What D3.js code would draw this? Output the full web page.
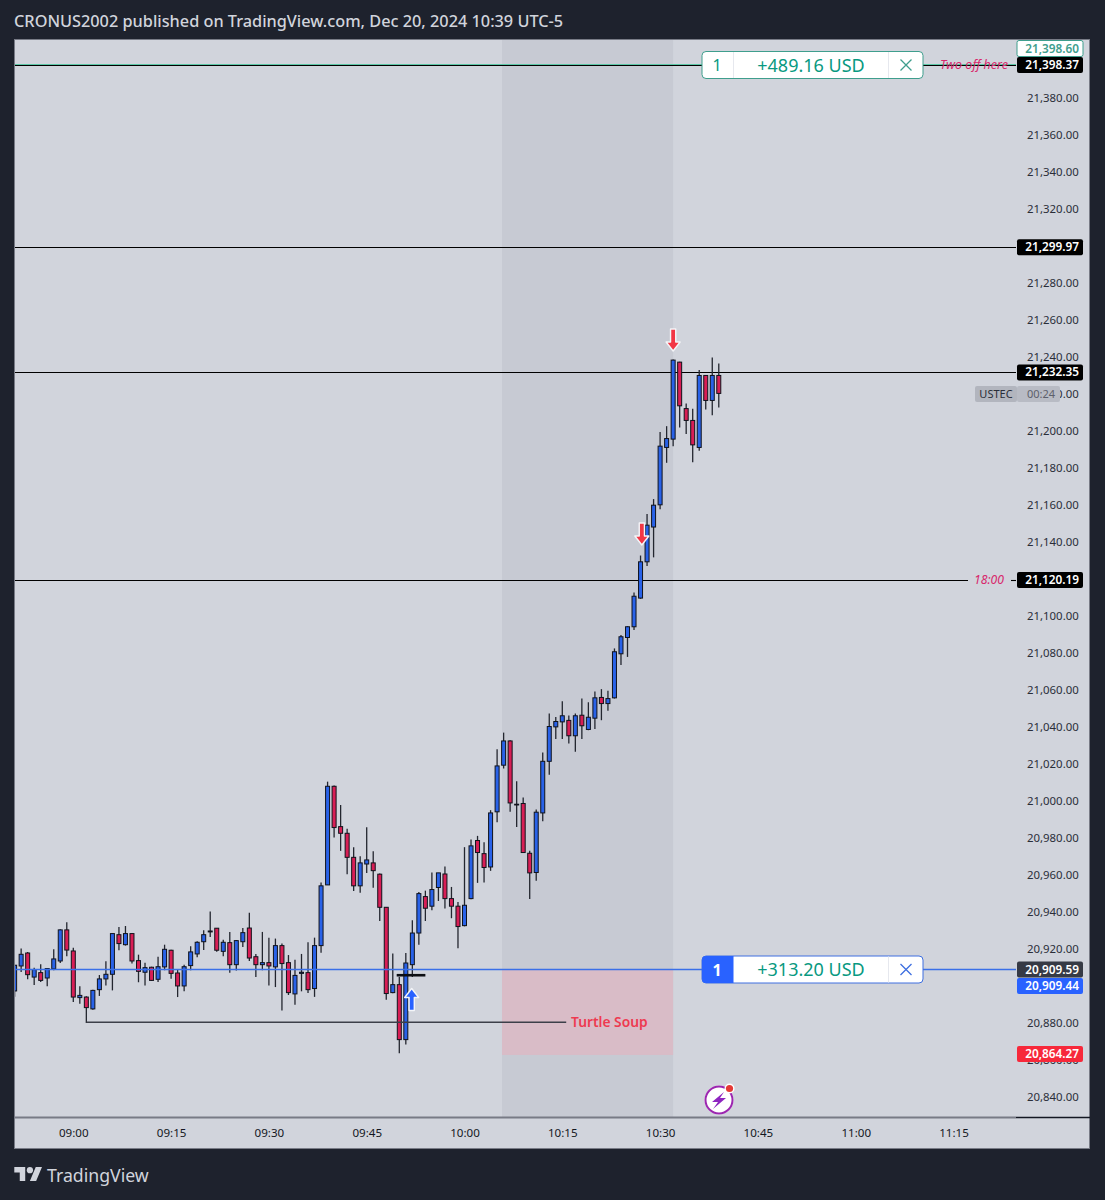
<!DOCTYPE html>
<html>
<head>
<meta charset="utf-8">
<script src="https://cdn.jsdelivr.net/npm/d3@7"></script>
<style>
  html, body { margin: 0; padding: 0; background: #1e222d; }
  svg { display: block; font-family: "Noto Sans", sans-serif; }
</style>
</head>
<body>
<div id="chart"></div>
<script>
// minutes counted from 09:00, one candle per minute
var firstMinute = -9;

var opens = [20898.0,20911.5,20918.5,20905.5,20907.9,20905.0,20909.9,20914.2,20931.0,
  20919.6,20894.4,20894.7,20888.3,20898.7,20904.5,20907.0,20928.4,20923.0,20929.0,
  20914.4,20908.1,20910.8,20904.3,20911.0,20920.0,20907.7,20900.7,20911.7,20918.0,
  20924.6,20929.9,20931.9,20919.4,20924.1,20912.2,20924.6,20932.0,20916.5,20912.2,
  20913.3,20911.0,20922.5,20913.3,20896.4,20907.5,20907.9,20899.3,20922.5,20955.3,
  21008.6,20986.8,20983.2,20970.2,20954.8,20966.6,20967.2,20961.1,20943.2,20897.1,
  20901.4,20871.7,20912.2,20929.3,20949.0,20943.8,20953.9,20961.2,20947.9,20943.8,
  20933.3,20947.9,20979.3,20972.2,20965.0,20994.8,21020.0,21033.1,20998.9,20999.3,
  20972.4,20962.0,20994.2,21022.1,21040.7,21043.4,21044.2,21035.9,21047.0,21039.3,
  21045.4,21056.6,21053.3,21056.4,21080.2,21089.0,21094.8,21110.3,21129.9,21148.7,
  21160.7,21191.7,21196.2,21237.8,21212.7,21206.3,21191.7,21230.6,21217.1,21230.6];

var highs = [20911.9,20920.9,20919.1,20910.6,20912.4,20910.1,20920.5,20931.3,20935.1,
  20921.4,20900.5,20895.1,20898.7,20906.6,20914.0,20929.0,20932.6,20933.1,20929.0,
  20917.6,20913.3,20911.1,20916.5,20923.0,20920.3,20909.5,20912.2,20922.1,20924.8,
  20930.8,20941.0,20932.0,20925.7,20929.9,20925.5,20932.0,20940.3,20918.0,20929.9,
  20926.8,20926.3,20923.6,20917.4,20914.9,20918.0,20924.3,20926.8,20956.6,21011.1,
  21009.0,20998.5,20985.7,20975.7,20970.8,20986.5,20973.5,20961.4,20943.4,20918.2,
  20905.6,20918.5,20936.2,20951.5,20952.2,20962.0,20961.8,20965.2,20954.2,20946.1,
  20975.7,20979.8,20981.8,20978.4,20995.7,21028.6,21037.6,21033.5,21011.3,21002.5,
  20973.7,20996.0,21026.8,21047.9,21046.1,21054.6,21046.9,21047.9,21056.0,21054.0,
  21059.8,21061.1,21060.2,21083.1,21090.3,21095.1,21113.3,21133.3,21155.7,21163.8,
  21200.1,21203.2,21239.2,21238.0,21215.4,21212.6,21233.5,21230.8,21240.3,21237.1];

var lows = [20894.8,20908.3,20904.3,20901.2,20902.8,20900.5,20909.2,20913.1,20916.7,
  20892.0,20891.1,20880.7,20887.9,20895.3,20901.0,20898.3,20920.0,20922.5,20912.8,
  20902.7,20901.0,20903.4,20902.8,20909.2,20904.6,20894.7,20897.8,20909.2,20916.2,
  20920.1,20927.2,20919.2,20916.7,20907.9,20909.0,20921.8,20914.2,20905.5,20909.2,
  20901.0,20900.1,20887.5,20895.8,20890.6,20897.8,20896.9,20894.8,20918.7,20955.3,
  20980.9,20973.7,20961.1,20952.0,20951.0,20961.8,20953.7,20935.8,20893.3,20896.7,
  20864.3,20869.0,20905.6,20922.9,20935.8,20941.6,20946.6,20942.5,20937.3,20921.1,
  20932.9,20947.5,20956.4,20956.6,20962.9,20989.2,21018.2,20994.8,20986.6,20972.6,
  20947.7,20957.6,20989.7,21014.8,21034.2,21034.2,21031.7,21027.2,21034.2,21038.9,
  21039.5,21044.3,21049.4,21056.0,21074.1,21078.5,21093.0,21109.9,21127.6,21132.3,
  21158.3,21183.4,21192.4,21202.5,21198.9,21183.7,21189.9,21212.2,21209.1,21213.3];

var closes = [20911.9,20917.8,20906.8,20909.5,20903.7,20910.1,20915.3,20931.0,20920.1,
  20894.7,20895.6,20889.0,20898.3,20904.5,20907.0,20929.0,20923.6,20929.0,20914.2,
  20908.6,20910.6,20903.7,20911.1,20920.5,20907.5,20900.7,20911.1,20919.1,20924.3,
  20928.4,20930.4,20920.0,20924.3,20912.2,20925.2,20929.5,20915.8,20912.2,20913.3,
  20911.5,20922.5,20912.8,20897.1,20906.4,20908.1,20898.7,20922.5,20954.8,21008.6,
  20986.3,20983.2,20970.2,20954.8,20967.2,20968.8,20963.0,20943.2,20896.6,20901.4,
  20871.7,20913.1,20929.3,20950.6,20942.7,20952.8,20961.8,20947.9,20943.8,20932.8,
  20944.3,20976.4,20972.8,20964.7,20994.2,21019.6,21033.1,20999.6,20998.5,20972.8,
  20961.8,20994.6,21022.1,21040.9,21043.6,21046.7,21035.9,21046.7,21041.3,21045.9,
  21056.4,21053.3,21056.0,21081.3,21089.4,21094.8,21111.3,21129.9,21149.7,21160.5,
  21192.4,21196.5,21238.9,21214.2,21206.3,21193.1,21230.6,21217.1,21230.6,21220.9];

var priceTicks = [21380,21360,21340,21320,21300,21280,21260,21240,21220,21200,21180,21160,
  21140,21120,21100,21080,21060,21040,21020,21000,20980,20960,20940,20920,20900,20880,20860,20840];
var timeTicks = [0,15,30,45,60,75,90,105,120,135];
var timeLabels = ["09:00","09:15","09:30","09:45","10:00","10:15","10:30","10:45","11:00","11:15"];

var levelPrices = [21299.97,21232.35,21120.19];
var tpPrice = 21398.37;
var bidPrice = 21398.60;
var entryPrice = 20909.59;
var askPrice = 20909.44;
var lowPrice = 20864.27;
var boxBottomPrice = 20863.4;

var w = 1105, h = 1200;
var panelL = 15, panelR = 1090, panelT = 40, panelB = 1149, plotRight = 1016, axisY = 1117.5;

var x = d3.scaleLinear().domain([0, 120]).range([73.3, 855.7]);
var y = d3.scaleLinear().domain([21398.37, 20909.59]).range([65, 969.5]);

var fmt = d3.format(",.2f");

var svg = d3.select("#chart").append("svg").attr("width", w).attr("height", h);

svg.append("text").text("CRONUS2002 published on TradingView.com, Dec 20, 2024 10:39 UTC-5")
  .attr("x", 14).attr("y", 27).attr("font-size", 16.3).attr("fill", "#d1d4dc").attr("font-weight", 500);

svg.append("rect").attr("x", panelL - 0.5).attr("y", panelT - 0.5)
  .attr("width", panelR - panelL).attr("height", panelB - panelT)
  .attr("fill", "#d1d4dc").attr("stroke", "#787b86").attr("stroke-width", 1);

var defs = svg.append("defs");
defs.append("clipPath").attr("id", "plot").append("rect")
  .attr("x", panelL).attr("y", panelT).attr("width", plotRight - panelL).attr("height", axisY - panelT);

var plot = svg.append("g").attr("clip-path", "url(#plot)");

// session box and the pink part of it
plot.append("rect").attr("x", x(65.75)).attr("y", panelT)
  .attr("width", x(92) - x(65.75)).attr("height", axisY - panelT).attr("fill", "#c7cad3");
plot.append("rect").attr("x", x(65.75)).attr("y", y(entryPrice))
  .attr("width", x(92) - x(65.75)).attr("height", y(boxBottomPrice) - y(entryPrice)).attr("fill", "#d9bcc7");

// horizontal levels, snapped to a pixel row so they stay black
function snap(v) { return Math.floor(v) + 0.5; }

plot.selectAll("line.level").data(levelPrices).enter().append("line")
  .attr("class", "level")
  .attr("x1", panelL).attr("x2", function (d) { return d == 21120.19 ? 968 : plotRight; })
  .attr("y1", function (d) { return snap(y(d) + 0.4); }).attr("y2", function (d) { return snap(y(d) + 0.4); })
  .attr("stroke", "#000000").attr("stroke-width", 1.1);
plot.append("line").attr("x1", 1011).attr("x2", plotRight)
  .attr("y1", snap(y(21120.19) + 0.4)).attr("y2", snap(y(21120.19) + 0.4))
  .attr("stroke", "#000000").attr("stroke-width", 1.1);

plot.append("line").attr("x1", panelL).attr("x2", plotRight).attr("y1", 64.5).attr("y2", 64.5)
  .attr("stroke", "#5cc6a6").attr("stroke-width", 1);
plot.append("line").attr("x1", panelL).attr("x2", plotRight).attr("y1", 65.5).attr("y2", 65.5)
  .attr("stroke", "#000000").attr("stroke-width", 1);

// candles
var candles = opens.map(function (o, i) {
  return { m: firstMinute + i, o: o, h: highs[i], l: lows[i], c: closes[i] };
});

var candle = plot.selectAll("g.candle").data(candles).enter().append("g").attr("class", "candle");
candle.append("line")
  .attr("x1", function (d) { return x(d.m); })
  .attr("x2", function (d) { return x(d.m); })
  .attr("y1", function (d) { return y(d.h); })
  .attr("y2", function (d) { return y(d.l); })
  .attr("stroke", "#23262f").attr("stroke-width", 1.3);
candle.append("rect")
  .attr("x", function (d) { return x(d.m) - 2; })
  .attr("y", function (d) { return y(Math.max(d.o, d.c)); })
  .attr("width", 4)
  .attr("height", function (d) { return Math.max(0.5, Math.abs(y(d.o) - y(d.c))); })
  .attr("fill", function (d) { return d.c >= d.o ? "#2962e8" : "#d81e55"; })
  .attr("stroke", "#10131c").attr("stroke-width", 1);

// entry line over the candles
plot.append("line").attr("x1", panelL).attr("x2", plotRight).attr("y1", y(entryPrice)).attr("y2", y(entryPrice))
  .attr("stroke", "#3a6fe8").attr("stroke-width", 1.4);

// turtle soup line and the small marker at the entry
plot.append("line").attr("x1", x(2)).attr("x2", x(75.6)).attr("y1", y(20881.1)).attr("y2", y(20881.1))
  .attr("stroke", "#3c3f49").attr("stroke-width", 1.4);
plot.append("line").attr("x1", x(49.6)).attr("x2", x(54)).attr("y1", y(20906.5)).attr("y2", y(20906.5))
  .attr("stroke", "#0b0d12").attr("stroke-width", 2.6);
plot.append("text").text("Turtle Soup").attr("x", 571).attr("y", y(20881.1) + 5)
  .attr("font-size", 13.8).attr("font-weight", 600).attr("fill", "#ee3a50");

// arrows, tip at 0,0
function arrow(px, py, dir, colour) {
  var p = "M0,0 L7,9 L2.6,9 L2.6,22 L-2.6,22 L-2.6,9 L-7,9 Z";
  plot.append("path").attr("d", p)
    .attr("transform", "translate(" + px + "," + py + ") scale(1," + dir + ")")
    .attr("fill", colour).attr("stroke", "#f4f5f8").attr("stroke-width", 1.4).attr("stroke-linejoin", "round");
}
arrow(x(51.9), 988.5, 1, "#2962ff");
arrow(x(87.2), 545, -1, "#f23645");
arrow(x(92), 351, -1, "#f23645");

// annotations
plot.append("text").text("Two off here").attr("x", 940).attr("y", y(tpPrice) + 4)
  .attr("font-size", 12.5).attr("font-style", "italic").attr("fill", "#d8286c");
plot.append("text").text("18:00").attr("x", 974).attr("y", y(21120.19) + 4.5)
  .attr("font-size", 12.2).attr("font-style", "italic").attr("fill", "#d8286c");

// order boxes
function orderBox(price, colour) {
  var cy = y(price);
  var g = svg.append("g");
  g.append("rect").attr("x", 702).attr("y", cy - 13.5).attr("width", 221).attr("height", 27).attr("rx", 4)
    .attr("fill", "#ffffff").attr("stroke", colour).attr("stroke-width", 1);
  return { g: g, cy: cy };
}

var tp = orderBox(tpPrice, "#3f9e8d");
tp.g.append("text").text("1").attr("x", 717).attr("y", tp.cy + 6).attr("text-anchor", "middle")
  .attr("font-size", 16).attr("fill", "#089981");
tp.g.append("line").attr("x1", 733.5).attr("x2", 733.5).attr("y1", tp.cy - 13).attr("y2", tp.cy + 13).attr("stroke", "#e6e8ee");
tp.g.append("line").attr("x1", 888.5).attr("x2", 888.5).attr("y1", tp.cy - 13).attr("y2", tp.cy + 13).attr("stroke", "#e6e8ee");
tp.g.append("text").text("+489.16 USD").attr("x", 811).attr("y", tp.cy + 6.5).attr("text-anchor", "middle")
  .attr("font-size", 18).attr("fill", "#089981");
tp.g.append("path").attr("d", "M-5.5,-5.5L5.5,5.5M5.5,-5.5L-5.5,5.5")
  .attr("transform", "translate(906," + tp.cy + ")").attr("stroke", "#3f9e8d").attr("stroke-width", 1.3);

var en = orderBox(entryPrice, "#3e6fe0");
en.g.append("path").attr("d", "M733.5," + (en.cy - 13.5) + " H706 a4,4 0 0 0 -4,4 V" + (en.cy + 9.5) + " a4,4 0 0 0 4,4 H733.5 Z")
  .attr("fill", "#2962ff");
en.g.append("text").text("1").attr("x", 717).attr("y", en.cy + 6).attr("text-anchor", "middle")
  .attr("font-size", 16).attr("font-weight", 700).attr("fill", "#ffffff");
en.g.append("line").attr("x1", 888.5).attr("x2", 888.5).attr("y1", en.cy - 13).attr("y2", en.cy + 13).attr("stroke", "#e6e8ee");
en.g.append("text").text("+313.20 USD").attr("x", 811).attr("y", en.cy + 6.5).attr("text-anchor", "middle")
  .attr("font-size", 18).attr("fill", "#089981");
en.g.append("path").attr("d", "M-5.5,-5.5L5.5,5.5M5.5,-5.5L-5.5,5.5")
  .attr("transform", "translate(906," + en.cy + ")").attr("stroke", "#3e6fe0").attr("stroke-width", 1.3);

// lightning icon
var bolt = svg.append("g").attr("transform", "translate(719,1100)");
bolt.append("circle").attr("r", 14.5).attr("fill", "#ffffff");
bolt.append("circle").attr("r", 13.5).attr("fill", "#ffffff").attr("stroke", "#9c27b0").attr("stroke-width", 2);
bolt.append("path").attr("d", "M5,-8 L-7,2 L-1,2 L-6,9 L7,-2 L1,-2 Z").attr("fill", "#8e24c0");
bolt.append("circle").attr("cx", 10.5).attr("cy", -11.5).attr("r", 5).attr("fill", "#ffffff");
bolt.append("circle").attr("cx", 10.5).attr("cy", -11.5).attr("r", 3.6).attr("fill", "#e53935");

// price axis
var yAxis = d3.axisRight(y).tickValues(priceTicks).tickSize(0).tickPadding(0)
  .tickFormat(function (d) { return fmt(d); });
var yG = svg.append("g").attr("transform", "translate(1027,-1.5)").call(yAxis);
yG.select(".domain").remove();
yG.selectAll("text").attr("font-family", "\"Noto Sans\", sans-serif").attr("font-size", 11.4).attr("fill", "#2a2e39");

// time axis
svg.append("line").attr("x1", panelL).attr("x2", plotRight).attr("y1", axisY).attr("y2", axisY)
  .attr("stroke", "#787b86").attr("stroke-width", 2);
svg.append("line").attr("x1", plotRight).attr("x2", panelR).attr("y1", axisY).attr("y2", axisY)
  .attr("stroke", "#131722").attr("stroke-width", 1.5);

var xAxis = d3.axisBottom(x).tickValues(timeTicks).tickSize(0).tickPadding(0)
  .tickFormat(function (d, i) { return timeLabels[i]; });
var xG = svg.append("g").attr("transform", "translate(0,1129)").call(xAxis);
xG.select(".domain").remove();
xG.selectAll("text").attr("font-family", "\"Noto Sans\", sans-serif").attr("font-size", 11.6).attr("fill", "#131722");

// price labels on the right
function priceLabel(price, cy, fill, textFill, stroke) {
  var g = svg.append("g");
  g.append("rect").attr("x", 1017).attr("y", cy - 8).attr("width", 66).attr("height", 16).attr("rx", 2)
    .attr("fill", fill).attr("stroke", stroke || "none");
  g.append("text").text(fmt(price)).attr("x", 1079).attr("y", cy + 4).attr("text-anchor", "end")
    .attr("font-size", 11.8).attr("font-weight", 600).attr("fill", textFill);
}
priceLabel(bidPrice, 48.5, "#ffffff", "#3f9e8d", "#3f9e8d");
priceLabel(tpPrice, 65, "#000000", "#ffffff");
levelPrices.forEach(function (d) {
  priceLabel(d, y(d) + 0.2, "#000000", "#ffffff");
});
priceLabel(entryPrice, 969.5, "#363a45", "#ffffff");
priceLabel(askPrice, 986, "#2962ff", "#ffffff");
priceLabel(lowPrice, 1054, "#f7283a", "#ffffff");

// symbol tag with countdown
svg.append("rect").attr("x", 975).attr("y", 386).attr("width", 42).attr("height", 16).attr("rx", 2).attr("fill", "#b2b5be");
svg.append("text").text("USTEC").attr("x", 996).attr("y", 398).attr("text-anchor", "middle")
  .attr("font-size", 11).attr("fill", "#2a2e39");
svg.append("rect").attr("x", 1017).attr("y", 386).attr("width", 43).attr("height", 16).attr("rx", 2).attr("fill", "#b8bbc4");
svg.append("text").text("00:24").attr("x", 1041).attr("y", 398).attr("text-anchor", "middle")
  .attr("font-size", 11).attr("fill", "#5d606b");

// TradingView logo
var logo = svg.append("g").attr("transform", "translate(14.3,1163.9) scale(0.78)").attr("fill", "#d1d4dc");
logo.append("path").attr("d", "M14 22H7V11H0V4h14v18zM28 22h-8l7.5-18h8L28 22z");
logo.append("circle").attr("cx", 20).attr("cy", 8).attr("r", 4);
svg.append("text").text("TradingView").attr("x", 47).attr("y", 1181.5)
  .attr("font-size", 17.7).attr("fill", "#d1d4dc");
</script>
</body>
</html>
